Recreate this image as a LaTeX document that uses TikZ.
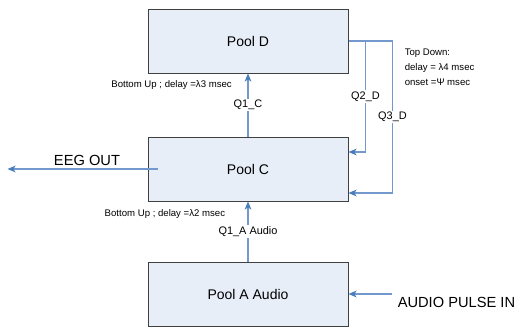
\documentclass[tikz,border=0pt]{standalone}
\usepackage{fontspec}
\setmainfont{Liberation Sans}
\usetikzlibrary{positioning,arrows.meta,calc}
\definecolor{poolfill}{RGB}{232,238,247}
\definecolor{poolline}{RGB}{64,64,64}
\definecolor{linkblue}{RGB}{115,152,205}
\definecolor{tipblue}{RGB}{74,126,187}

\begin{document}
\begin{tikzpicture}[
  x=0.75pt, y=-0.75pt, >={Stealth[length=6pt,width=5pt,inset=1.5pt,color=tipblue]},
  pool/.style={draw=poolline, line width=0.75pt, fill=poolfill, inner sep=0pt,
               minimum width=150pt, minimum height=48pt, font=\fontsize{10.5}{12}\selectfont},
  arr/.style={->, line width=0.9pt, color=linkblue},
  lbl/.style={fill=white, inner sep=1pt, text=black, font=\fontsize{8.2}{10}\selectfont},
  note/.style={inner sep=1pt, align=left, font=\fontsize{7.2}{11.25}\selectfont},
  big/.style={inner sep=1pt, text=black, font=\fontsize{11}{13}\selectfont},
]
\useasboundingbox (0,0) rectangle (514,326);

\node[pool] (D) at (248,41) {Pool D};
\node[pool, below=47.25pt of D] (C) {Pool C};
\node[pool, below=45pt of C] (A) {Pool A Audio};

\node[note, below left=4pt and 11pt of D.south] (bu3) {Bottom Up ; delay =λ3 msec};
\node[note, below left=5pt and 16pt of C.south] (bu2) {Bottom Up ; delay =λ2 msec};
\node[note, below right=5pt and 41pt of D.east] (td) {Top Down:\\delay = λ4 msec\\onset =Ψ msec};

\node[big, right=35.75pt of A.east, yshift=-6.5pt] (pulse) {AUDIO PULSE IN};
\coordinate[left=105pt of C.west] (eegend);

\draw[arr] (C) -- node[lbl] {Q1\_C} (D);
\draw[arr] (A) -- node[lbl] {Q1\_A Audio} (C);
\draw[arr] (D.east) -- ++(17,0) |- node[lbl, pos=0.25] {Q2\_D} ([yshift=12.75pt]C.east);
\draw[arr] (D.east) -- ++(44,0) |- node[lbl, pos=0.25] {Q3\_D} ([yshift=-18pt]C.east);
\draw[arr] ([xshift=7.5pt]C.west) -- node[big, above=1pt, pos=0.47] (eeg) {EEG OUT} (eegend);
\draw[arr] ([xshift=-3pt]pulse.west |- A.east) -- (A.east);
\end{tikzpicture}
\end{document}
